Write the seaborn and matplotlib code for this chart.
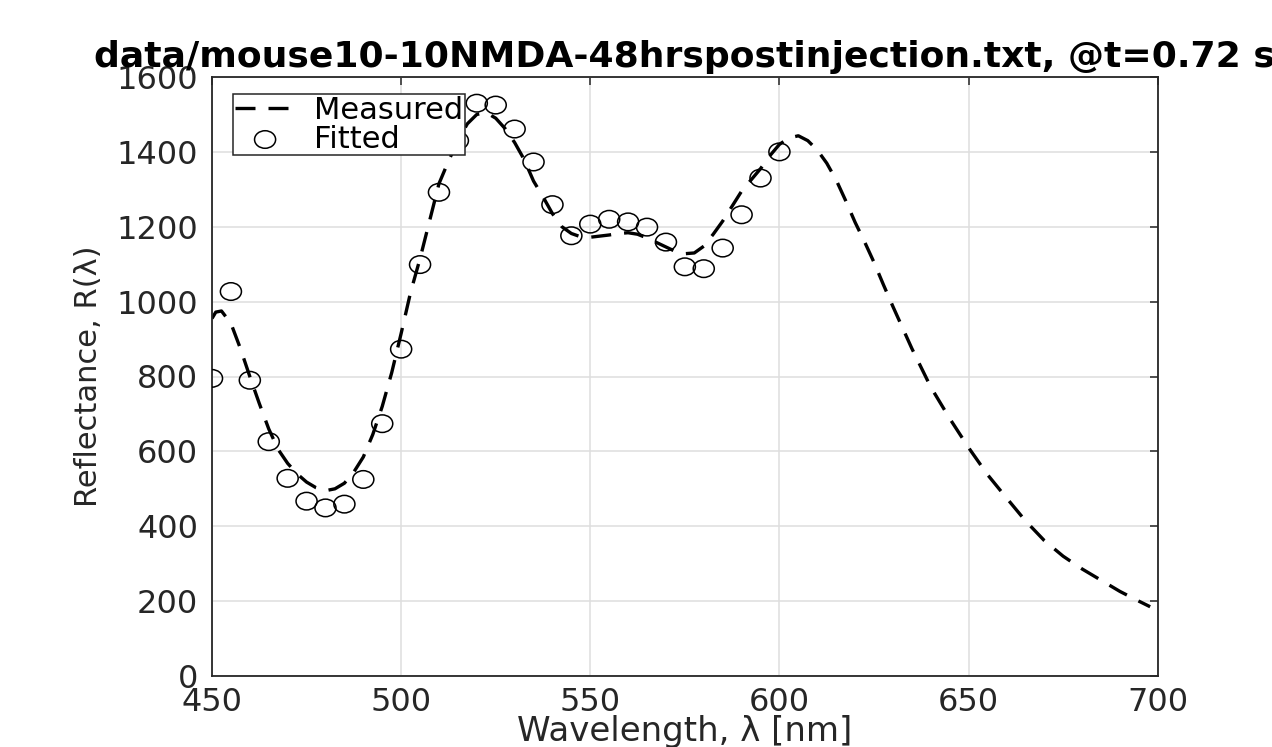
import numpy as np
import pandas as pd
import seaborn as sns
import matplotlib
matplotlib.use("Agg")
import matplotlib.pyplot as plt
from matplotlib.path import Path
from matplotlib.transforms import Affine2D

# ---------------- data ----------------
title_text = "data/mouse10-10NMDA-48hrspostinjection.txt, @t=0.72 s"

meas_wl = [450, 451, 452.5, 455, 457.5, 460, 462.5, 465, 467.5, 470, 472.5, 475,
           477.5, 480, 482.5, 485, 487.5, 490, 492.5, 495, 497.5, 500, 502.5, 505,
           507.5, 510, 512.5, 515, 517.5, 520, 522.5, 525, 527.5, 530, 532.5, 535,
           537.5, 540, 542.5, 545, 547.5, 550, 552.5, 555, 557.5, 560, 562.5, 565,
           567.5, 570, 572.5, 575, 577.5, 580, 582.5, 585, 587.5, 590, 592.5, 595,
           597.5, 600, 602.5, 605, 607.5, 610, 612.5, 615, 617.5, 620, 622.5, 625,
           627.5, 630, 635, 640, 645, 650, 655, 660, 665, 670, 675, 680, 685, 690,
           695, 698]
meas_R = [955, 972, 975, 942, 875, 800, 728, 660, 605, 568, 540, 518,
          503, 495, 500, 515, 545, 585, 645, 720, 810, 915, 1025, 1115,
          1215, 1315, 1375, 1430, 1475, 1500, 1505, 1490, 1462, 1425, 1380, 1322,
          1280, 1235, 1200, 1182, 1173, 1172, 1175, 1178, 1182, 1184, 1180, 1170,
          1158, 1146, 1134, 1128, 1130, 1148, 1180, 1215, 1255, 1295, 1325, 1355,
          1390, 1420, 1437, 1443, 1430, 1405, 1370, 1325, 1270, 1212, 1160, 1105,
          1045, 987, 875, 772, 688, 610, 538, 476, 415, 362, 320, 286, 256, 226,
          200, 185]

fit_wl = [450, 455, 460, 465, 470, 475, 480, 485, 490, 495, 500, 505, 510, 515,
          520, 525, 530, 535, 540, 545, 550, 555, 560, 565, 570, 575, 580, 585,
          590, 595, 600]
fit_R = [795, 1027, 790, 626, 528, 467, 449, 459, 525, 674, 873, 1099, 1292, 1430,
         1530, 1525, 1461, 1373, 1259, 1176, 1207, 1220, 1213, 1199, 1159, 1093,
         1088, 1143, 1232, 1330, 1400]

x_ticks = [450, 500, 550, 600, 650, 700]
y_ticks = [0, 200, 400, 600, 800, 1000, 1200, 1400, 1600]

# ---------------- style ----------------
sns.set_theme(style="white")
plt.rcParams["font.family"] = ["DejaVu Sans"]
plt.rcParams["mathtext.fontset"] = "dejavusans"
dark = "#262626"

fig = plt.figure(figsize=(12.72, 7.47), dpi=100)
W, H = 1272, 747
L, R, T, B = 212, 1157.7, 77, 676
ax = fig.add_axes([L / W, 1 - B / H, (R - L) / W, (B - T) / H])

meas_df = pd.DataFrame({"wl": meas_wl, "R": meas_R})
fit_df = pd.DataFrame({"wl": fit_wl, "R": fit_R})

sns.lineplot(data=meas_df, x="wl", y="R", ax=ax, color="black", lw=2.4,
             label="Measured", sort=False, estimator=None, zorder=2)
ax.lines[-1].set_dashes((6, 3.9))

ellipse = Path.unit_circle().transformed(Affine2D().scale(1.2, 1.0))
sns.scatterplot(data=fit_df, x="wl", y="R", ax=ax, marker=ellipse, s=230,
                facecolor="none", edgecolor="black", linewidth=1.1,
                label="Fitted", zorder=3)
coll = ax.collections[-1]
coll.set_facecolor("none")
coll.set_edgecolor("black")
coll.set_linewidth(1.1)

ax.set_xlim(450, 700)
ax.set_ylim(0, 1600)
ax.set_xticks(x_ticks)
ax.set_yticks(y_ticks)
ax.grid(True, color="#dedede", lw=1.1)
ax.set_axisbelow(True)
for s in ax.spines.values():
    s.set_color(dark)
    s.set_linewidth(1.3)

ax.tick_params(axis="both", direction="in", length=6, width=1.1, top=True,
               right=True, labelsize=23, colors=dark)
ax.tick_params(axis="y", pad=10)
ax.tick_params(axis="x", pad=8)

ax.set_xlabel("Wavelength, λ [nm]", fontsize=24.5, color=dark, labelpad=-2)
ax.set_ylabel("Reflectance, R(λ)", fontsize=22, color=dark)
ax.yaxis.set_label_coords((103 - L) / (R - L), 0.5)
ax.set_title(title_text, fontsize=26, fontweight="bold", color="black", pad=7)

leg = ax.legend(loc="upper left", bbox_to_anchor=(21 / (R - L), 1 - 17 / (B - T)),
                borderaxespad=0, frameon=True, fancybox=False, edgecolor=dark,
                framealpha=1, fontsize=22, handlelength=2.0, handletextpad=0.6,
                borderpad=0.05, labelspacing=0.0, scatterpoints=1)
leg.get_frame().set_linewidth(1.1)
leg.set_zorder(10)
for t in leg.get_texts():
    t.set_color("black")

fig.savefig("out.png", dpi=100)
